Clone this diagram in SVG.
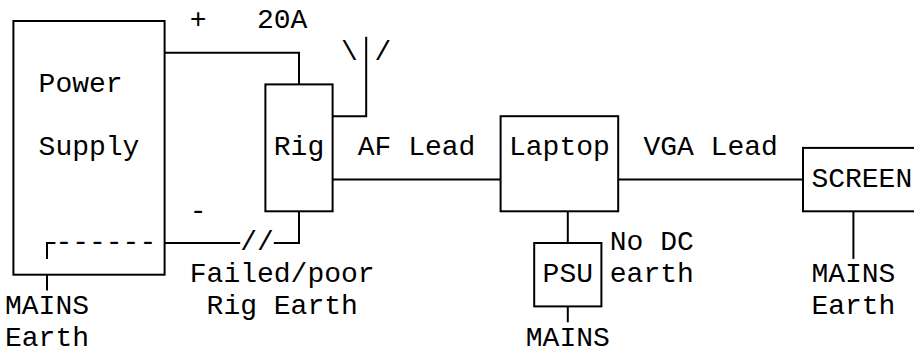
<svg xmlns="http://www.w3.org/2000/svg" width="914" height="350" viewBox="0 0 914 350">
<style>
text{font-family:"Liberation Mono","Courier New",monospace;font-size:28px;fill:#000}
.b{fill:none;stroke:#000;stroke-width:2}
.w{fill:none;stroke:#000;stroke-width:2}
</style>
<rect width="914" height="350" fill="#fff"/>
<g id="power-supply">
<rect class="b" x="13.4" y="21" width="151.2" height="253.7"/>
<text x="38.6" y="91.8">Power</text>
<text x="38.6" y="155.3">Supply</text>
</g>
<g id="rig">
<rect class="b" x="265.4" y="84.4" width="67.2" height="126.9"/>
<text x="273.8" y="155.3">Rig</text>
</g>
<g id="antenna">
<polyline class="w" points="332.6,116.2 366.2,116.2 366.2,36.8"/>
<text x="341" y="60.1">\</text>
<text x="374.6" y="60.1">/</text>
</g>
<g id="laptop">
<rect class="b" x="500.6" y="116.2" width="117.6" height="95.1"/>
<text x="509" y="155.3">Laptop</text>
</g>
<g id="psu">
<rect class="b" x="534.2" y="243" width="67.2" height="63.4"/>
<text x="542.6" y="282.2">PSU</text>
</g>
<g id="screen">
<rect class="b" x="803" y="147.9" width="117.6" height="63.4"/>
<text x="811.4" y="187">SCREEN</text>
</g>
<g id="connectors">
<polyline class="w" points="164.6,52.7 299,52.7 299,84.4"/>
<line class="w" x1="332.6" y1="179.6" x2="500.6" y2="179.6"/>
<line class="w" x1="618.2" y1="179.6" x2="803" y2="179.6"/>
<line class="w" x1="853.4" y1="211.3" x2="853.4" y2="258.9"/>
<polyline class="w" points="299,211.3 299,243 273.8,243"/>
<line class="w" x1="164.6" y1="243" x2="240.2" y2="243"/>
<polyline class="w" points="47,258.9 47,243 55.4,243"/>
<line class="w" x1="47" y1="274.7" x2="47" y2="290.6"/>
<line class="w" x1="567.8" y1="211.3" x2="567.8" y2="243"/>
<line class="w" x1="567.8" y1="306.4" x2="567.8" y2="322.3"/>
<text x="55.4" y="250.4">------</text>
<text x="240.2" y="250.4">//</text>
</g>
<g id="labels">
<text x="189.8" y="28.4">+</text>
<text x="257" y="28.4">20A</text>
<text x="357.8" y="155.3">AF Lead</text>
<text x="643.4" y="155.3">VGA Lead</text>
<text x="189.8" y="218.7">-</text>
<text x="609.8" y="250.4">No DC</text>
<text x="609.8" y="282.2">earth</text>
<text x="189.8" y="282.2">Failed/poor</text>
<text x="206.6" y="313.9">Rig Earth</text>
<text x="5" y="313.9">MAINS</text>
<text x="5" y="345.6">Earth</text>
<text x="811.4" y="282.2">MAINS</text>
<text x="811.4" y="313.9">Earth</text>
<text x="525.8" y="345.6">MAINS</text>
</g>
</svg>
